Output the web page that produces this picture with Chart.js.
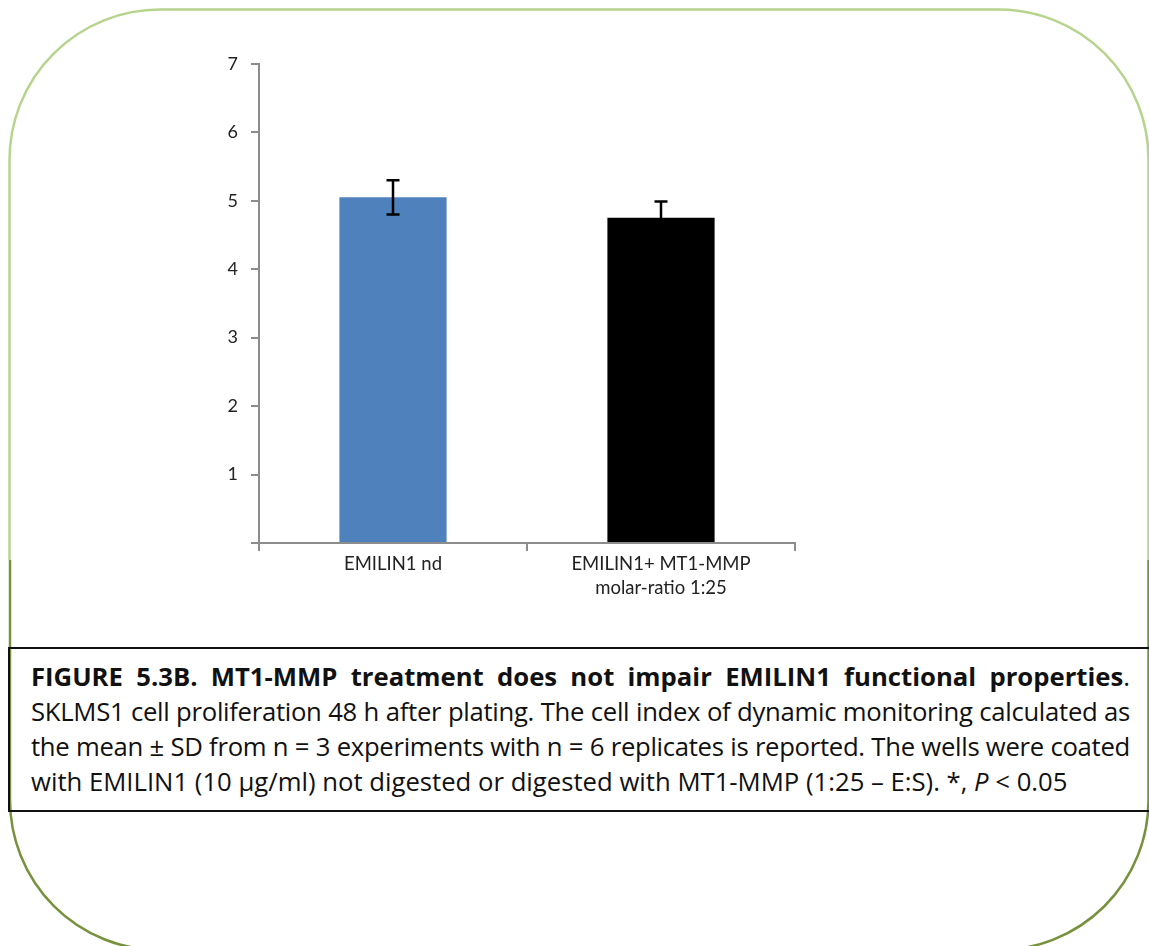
<!DOCTYPE html>
<html>
<head>
<meta charset="utf-8">
<script src="https://cdn.jsdelivr.net/npm/chart.js@4.4.0/dist/chart.umd.min.js"></script>
<style>
  body { margin: 0; background: #fff; width: 1149px; height: 946px; overflow: hidden; position: relative; }
  #frame { position: absolute; left: 0; top: 0; }
  #chartBox { position: absolute; left: 200px; top: 40px; width: 640px; height: 580px; }
  #caption {
    position: absolute; left: 8px; top: 647px; width: 1141px; height: 161px;
    border-top: 2px solid #111; border-bottom: 2px solid #111; border-left: 2px solid #111;
    box-sizing: content-box; padding: 0;
    font-family: 'Open Sans', sans-serif; font-size: 25.7px; line-height: 35px; color: #111;
  }
  #caption .ln { position: absolute; left: 21px; width: 1099px; white-space: nowrap; }
  #caption .j { text-align: justify; text-align-last: justify; }
</style>
</head>
<body>
<svg id="frame" width="1149" height="946">
  <path d="M 9.5 560 L 9.5 160 A 150.5 150.5 0 0 1 160 9.5 L 998 9.5 A 150 150 0 0 1 1148.5 160 L 1148.5 560" fill="none" stroke="#b7d48e" stroke-width="2.5"/>
  <path d="M 10 560 L 10 800 A 150 150 0 0 0 160 950 L 998 950 A 150 150 0 0 0 1148.5 800 L 1148.5 560" fill="none" stroke="#76923c" stroke-width="2.5"/>
</svg>

<div id="chartBox"><canvas id="chart"></canvas></div>

<div id="caption">
  <div class="ln j" style="top:10px"><b>FIGURE 5.3B. MT1-MMP treatment does not impair EMILIN1 functional properties</b>.</div>
  <div class="ln j" style="top:45px">SKLMS1 cell proliferation 48 h after plating. The cell index of dynamic monitoring calculated as</div>
  <div class="ln j" style="top:80px">the mean ± SD from n = 3 experiments with n = 6 replicates is reported. The wells were coated</div>
  <div class="ln" style="top:115px">with EMILIN1 (10 µg/ml) not digested or digested with MT1-MMP (1:25 – E:S). *, <i>P</i> &lt; 0.05</div>
</div>

<script>
const categories = ['EMILIN1 nd', ['EMILIN1+ MT1-MMP', 'molar-ratio 1:25']];
const cellIndex = [5.05, 4.75];
const cellIndexSD = [0.25, 0.24];
const barColors = ['#4f81bd', '#000000'];
const yTicks = [0, 1, 2, 3, 4, 5, 6, 7];

// squeeze the justified caption lines a little if they overflow
document.querySelectorAll('#caption .j').forEach(el => {
  let ls = 0;
  while (el.scrollWidth > el.clientWidth && ls > -2) {
    ls -= 0.05;
    el.style.letterSpacing = ls + 'px';
  }
});

// SD whiskers drawn on top of the bars
const errorBars = {
  id: 'errorBars',
  afterDatasetsDraw(chart) {
    const ctx = chart.ctx;
    const y = chart.scales.y;
    const meta = chart.getDatasetMeta(0);
    ctx.save();
    ctx.strokeStyle = '#000';
    ctx.lineWidth = 2.5;
    meta.data.forEach((bar, i) => {
      const top = y.getPixelForValue(cellIndex[i] + cellIndexSD[i]);
      const bot = y.getPixelForValue(cellIndex[i] - cellIndexSD[i]);
      const x = bar.x;
      ctx.beginPath();
      ctx.moveTo(x, top); ctx.lineTo(x, bot);
      ctx.moveTo(x - 6.5, top); ctx.lineTo(x + 6.5, top);
      ctx.moveTo(x - 6.5, bot); ctx.lineTo(x + 6.5, bot);
      ctx.stroke();
    });
    ctx.restore();
  }
};

new Chart(document.getElementById('chart'), {
  type: 'bar',
  data: {
    labels: categories,
    datasets: [{
      data: cellIndex,
      backgroundColor: barColors,
      borderWidth: 0,
      barPercentage: 0.4,
      categoryPercentage: 1.0
    }]
  },
  options: {
    responsive: true,
    maintainAspectRatio: false,
    animation: false,
    layout: { padding: { top: 22, right: 45, left: 0, bottom: 0 } },
    plugins: { legend: { display: false }, tooltip: { enabled: false } },
    scales: {
      x: {
        offset: true,
        grid: { display: true, offset: true, drawOnChartArea: false, drawTicks: true, tickLength: 8, color: '#8c8c8c', lineWidth: 2 },
        border: { display: true, color: '#8c8c8c', width: 2 },
        ticks: { color: '#222', padding: 1, font: { family: 'Lato', size: 18.5, lineHeight: 1.3 }, maxRotation: 0 },
        afterFit(scale) { scale.height = 77; }
      },
      y: {
        min: 0,
        max: 7,
        afterBuildTicks(scale) { scale.ticks = yTicks.map(v => ({ value: v })); },
        grid: { display: true, drawOnChartArea: false, drawTicks: true, tickLength: 8, color: '#8c8c8c', lineWidth: 2 },
        border: { display: true, color: '#8c8c8c', width: 2 },
        ticks: {
          color: '#222', padding: 13, font: { family: 'Lato', size: 18 },
          callback: v => (v === 0 ? '' : v)
        },
        afterFit(scale) { scale.width = 59; }
      }
    }
  },
  plugins: [errorBars]
});
</script>
</body>
</html>
